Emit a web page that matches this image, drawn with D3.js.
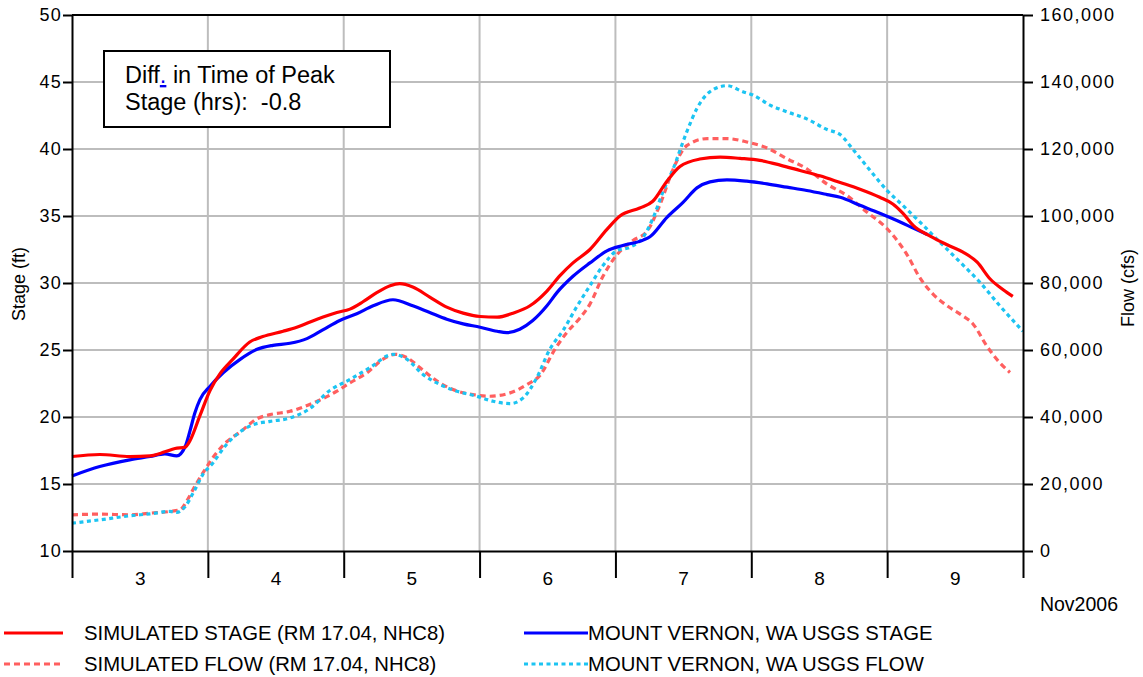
<!DOCTYPE html>
<html><head><meta charset="utf-8">
<script src="https://cdn.jsdelivr.net/npm/d3@7"></script>
<style>
body{margin:0;background:#fff}
text{font-family:"Liberation Sans",Arial,sans-serif;fill:#000}
</style>
</head><body>
<svg id="c" width="1143" height="677"></svg>
<script>
// ---- data (time = hours since Nov 3 2006 00:00) ----
const dayLabels = ["3","4","5","6","7","8","9"];
const dayTicks = [0,24,48,72,96,120,144,168];
const stageTicks = [10,15,20,25,30,35,40,45,50];
const flowTicks = [0,20000,40000,60000,80000,100000,120000,140000,160000];

const simStage = [[0,17.05],[4.9,17.2],[10.2,17.05],[13.8,17.1],[16.4,17.4],[18.2,17.65],[20.0,17.75],[20.8,18.2],[22.6,20.1],[24.4,22.0],[26.1,23.2],[28.4,24.3],[31.4,25.6],[33.7,26.0],[37.3,26.4],[39.7,26.7],[43.3,27.3],[46.8,27.8],[49.1,28.05],[51.4,28.6],[53.9,29.3],[56.2,29.8],[57.9,29.95],[60.2,29.7],[63.2,28.95],[66.2,28.2],[69.1,27.75],[72.1,27.5],[75.1,27.45],[77.9,27.75],[80.9,28.3],[83.9,29.4],[86.2,30.55],[88.5,31.5],[91.5,32.5],[94.5,34.0],[96.8,35.0],[100.3,35.6],[102.6,36.1],[105.1,37.6],[107.4,38.7],[110.9,39.25],[114.5,39.4],[118.0,39.3],[121.5,39.15],[125.1,38.8],[128.6,38.4],[132.1,38.0],[135.7,37.5],[139.2,37.0],[142.7,36.4],[145.0,35.9],[146.8,35.2],[148.6,34.3],[151.6,33.5],[154.6,32.85],[157.4,32.3],[159.9,31.55],[162.2,30.3],[164.5,29.5],[166.2,29.0]];

const obsStage = [[0,15.6],[4.9,16.3],[10.2,16.8],[13.8,17.05],[16.4,17.25],[18.5,17.1],[20.0,17.8],[20.8,18.9],[21.7,20.3],[22.6,21.3],[24.4,22.3],[26.7,23.3],[29.7,24.3],[32.7,25.05],[35.5,25.35],[38.5,25.5],[41.5,25.85],[44.3,26.5],[47.3,27.2],[50.3,27.7],[53.2,28.3],[56.7,28.75],[60.2,28.3],[63.2,27.8],[66.2,27.3],[69.1,26.95],[72.1,26.7],[75.1,26.4],[76.8,26.3],[79.1,26.55],[81.4,27.2],[83.9,28.3],[85.7,29.3],[88.5,30.5],[91.5,31.5],[94.5,32.4],[97.3,32.8],[100.9,33.2],[102.1,33.45],[105.1,34.9],[107.9,36.0],[110.4,37.1],[112.7,37.55],[115.7,37.7],[119.2,37.6],[122.8,37.4],[126.3,37.15],[129.8,36.9],[133.4,36.6],[135.7,36.4],[139.2,35.8],[142.7,35.2],[146.3,34.55],[148.6,34.1],[151.2,33.6]];

const simFlow = [[0,10800],[4.9,11000],[10.2,10800],[13.8,11300],[17.3,11800],[19.1,12300],[20.3,15000],[21.7,19300],[23.5,24300],[25.3,28800],[27.4,32700],[29.7,35500],[32.7,39500],[35.0,40700],[38.5,41700],[42.6,44200],[46.8,47700],[49.1,50200],[52.1,53200],[54.9,57200],[57.1,58700],[59.2,57700],[61.5,54700],[64.5,50700],[67.3,48200],[70.8,46700],[73.8,46200],[77.4,47200],[80.4,49700],[82.7,52500],[85.3,60200],[87.4,65200],[89.7,69500],[91.5,73700],[93.8,82000],[96.3,88500],[99.1,92700],[101.6,95500],[103.9,103500],[106.2,114000],[108.6,121000],[112.2,123100],[115.7,123100],[119.2,122100],[122.8,120300],[126.3,117100],[129.8,114100],[133.4,109500],[136.9,106100],[140.4,101200],[144.0,96200],[146.3,91500],[147.5,88500],[149.8,81500],[152.1,76700],[154.6,73200],[156.9,70700],[159.2,67700],[161.6,61200],[163.9,56200],[165.7,53300]];

const obsFlow = [[0,8300],[4.9,9300],[10.2,10500],[13.8,11100],[17.3,11800],[18.5,11500],[20.0,13300],[21.4,17300],[23.1,22800],[24.9,26300],[27.0,31200],[29.1,34800],[32.0,37700],[35.0,38700],[38.5,39700],[42.0,42500],[45.6,48000],[49.1,51200],[52.6,54700],[56.7,58700],[59.2,57200],[62.0,52700],[65.0,49700],[68.0,47700],[71.5,46200],[74.4,44700],[77.4,44000],[79.7,45700],[82.1,51700],[84.4,60200],[86.7,65700],[89.2,73000],[91.5,79200],[93.8,85200],[96.3,89700],[98.6,90700],[100.9,93700],[102.6,99200],[104.4,107200],[106.2,114100],[108.6,125100],[110.4,132100],[112.7,137100],[115.7,138900],[118.5,137100],[120.3,136100],[123.3,133100],[126.3,131100],[129.8,129000],[133.4,125800],[135.7,124300],[138.0,119800],[141.0,113600],[144.0,107600],[146.8,103100],[149.8,98200],[153.3,92200],[156.9,86200],[160.4,80200],[163.9,73200],[168.0,65600]];

const legendNames = ["SIMULATED STAGE (RM 17.04, NHC8)","SIMULATED FLOW (RM 17.04, NHC8)","MOUNT VERNON, WA USGS STAGE","MOUNT VERNON, WA USGS FLOW"];

// ---- layout ----
const L=72, R=1023, T=15, B=551;
const svg = d3.select("#c");
const x = d3.scaleLinear().domain([0,168]).range([L,R]);
const yS = d3.scaleLinear().domain([10,50]).range([B,T]);
const yF = d3.scaleLinear().domain([0,160000]).range([B,T]);

// gridlines
const grid = svg.append("g").attr("stroke","#bdbdbd").attr("stroke-width",2);
grid.selectAll("line.h").data(stageTicks.slice(1,-1)).enter().append("line")
  .attr("x1",L).attr("x2",R).attr("y1",d=>yS(d)).attr("y2",d=>yS(d));
grid.selectAll("line.v").data(dayTicks.slice(1,-1)).enter().append("line")
  .attr("y1",T).attr("y2",B).attr("x1",d=>x(d)).attr("x2",d=>x(d));

// series
const styles = [
  {data:simFlow, y:yF, color:"#ff5f5f", dash:"6,4"},
  {data:obsFlow, y:yF, color:"#1cc4f2", dash:"4,3.5"},
  {data:obsStage, y:yS, color:"#0000ff", dash:null},
  {data:simStage, y:yS, color:"#ff0000", dash:null}
];
styles.forEach(s=>{
  const line = d3.line().x(d=>x(d[0])).y(d=>s.y(d[1])).curve(d3.curveMonotoneX);
  svg.append("path").attr("d",line(s.data)).attr("fill","none")
    .attr("stroke",s.color).attr("stroke-width",3.2)
    .attr("stroke-dasharray",s.dash).attr("stroke-linejoin","round");
});

// frame top
svg.append("line").attr("x1",L).attr("x2",R).attr("y1",T).attr("y2",T).attr("stroke","#000").attr("stroke-width",2);

// axes
function styleAxis(g, fs, ls){
  g.select(".domain").attr("stroke","#000").attr("stroke-width",2);
  g.selectAll(".tick line").attr("stroke","#000").attr("stroke-width",2);
  g.selectAll(".tick text").attr("font-size",fs).attr("letter-spacing",ls)
    .attr("font-family","'Liberation Sans',Arial,sans-serif").attr("fill","#000");
}
const gl = svg.append("g").attr("transform",`translate(${L},0)`)
  .call(d3.axisLeft(yS).tickValues(stageTicks).tickSize(9).tickSizeOuter(0).tickPadding(1));
styleAxis(gl,"18px","1.2px");
const gr = svg.append("g").attr("transform",`translate(${R},0)`)
  .call(d3.axisRight(yF).tickValues(flowTicks).tickFormat(d3.format(",")).tickSize(10).tickSizeOuter(0).tickPadding(7));
styleAxis(gr,"18px","1.5px");
const gb = svg.append("g").attr("transform",`translate(0,${B})`)
  .call(d3.axisBottom(x).tickValues(dayTicks).tickFormat("").tickSize(27).tickSizeOuter(0));
styleAxis(gb,"18px","0");
const gbl = svg.append("g").attr("transform",`translate(0,${B})`)
  .call(d3.axisBottom(x).tickValues(dayTicks.slice(0,-1).map(d=>d+12))
    .tickFormat((d,i)=>dayLabels[i]).tickSize(0).tickPadding(21));
gbl.select(".domain").remove();
styleAxis(gbl,"19px","0.5px");

svg.append("text").attr("x",1118).attr("y",611).attr("text-anchor","end")
  .attr("font-size","19.5px").text("Nov2006");

// axis titles
svg.append("text").attr("transform","translate(25,284) rotate(-90)").attr("text-anchor","middle")
  .attr("font-size","18px").text("Stage (ft)");
svg.append("text").attr("transform","translate(1134,288) rotate(-90)").attr("text-anchor","middle")
  .attr("font-size","18px").text("Flow (cfs)");

// annotation box
svg.append("rect").attr("x",104).attr("y",51).attr("width",286).attr("height",76)
  .attr("fill","#fff").attr("stroke","#000").attr("stroke-width",2);
const t1 = svg.append("text").attr("x",125).attr("y",83).attr("font-size","23.5px");
t1.append("tspan").text("Diff");
t1.append("tspan").text(".").attr("fill","#0000ee").attr("text-decoration","underline");
t1.append("tspan").text(" in Time of Peak");
svg.append("text").attr("x",125).attr("y",110).attr("font-size","23.5px")
  .attr("xml:space","preserve").style("white-space","pre").text("Stage (hrs):  -0.8");

// legend
const leg = [
  {x1:4,x2:63,tx:84,y:633,color:"#ff0000",dash:null,name:legendNames[0]},
  {x1:4,x2:63,tx:84,y:664,color:"#ff5f5f",dash:"6,4",name:legendNames[1]},
  {x1:524,x2:588,tx:588,y:633,color:"#0000ff",dash:null,name:legendNames[2]},
  {x1:524,x2:588,tx:588,y:664,color:"#1cc4f2",dash:"4,3.5",name:legendNames[3]}
];
leg.forEach(l=>{
  svg.append("line").attr("x1",l.x1).attr("x2",l.x2).attr("y1",l.y).attr("y2",l.y)
    .attr("stroke",l.color).attr("stroke-width",3.2).attr("stroke-dasharray",l.dash);
  svg.append("text").attr("x",l.tx).attr("y",l.y+7).attr("font-size","20.3px").text(l.name);
});
</script>
</body></html>
